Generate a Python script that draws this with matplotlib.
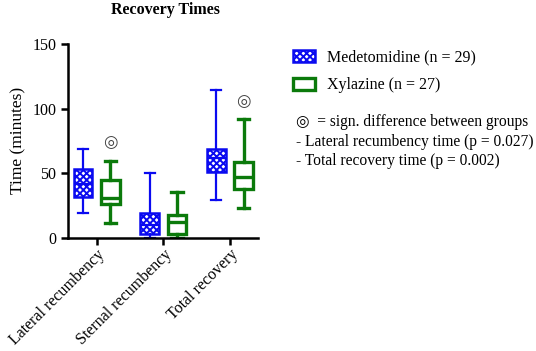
import matplotlib
matplotlib.use("Agg")
import matplotlib.pyplot as plt

plt.rcParams['font.family'] = ['Liberation Serif', 'DejaVu Sans']
plt.rcParams['hatch.linewidth'] = 1.4

categories = ["Lateral recumbency", "Sternal recumbency", "Total recovery"]

# box stats (minutes)
med_whislo = [19, 0, 29.5]
med_q1 = [32, 2.8, 51]
med_med = [42, 10, 62]
med_q3 = [53, 19, 68.5]
med_whishi = [69, 50.5, 114.5]

xyl_whislo = [11.5, 0, 23.5]
xyl_q1 = [26, 2.8, 37.5]
xyl_med = [31, 12, 47.5]
xyl_q3 = [44.5, 17.5, 58.5]
xyl_whishi = [59.5, 35.5, 92]

sig_x = [0, 2]
sig_y = [74.5, 106]

blue = "#0a0af0"
green = "#0b7a0b"

def stats(lo, q1, med, q3, hi):
    return [dict(whislo=a, q1=b, med=c, q3=d, whishi=e, fliers=[])
            for a, b, c, d, e in zip(lo, q1, med, q3, hi)]

fig = plt.figure(figsize=(5.36, 3.51), dpi=100)
ax = fig.add_axes([0.127, 0.322, 0.354, 0.553])

pos = range(len(categories))
off = 0.205
w = 0.28

b1 = ax.bxp(stats(med_whislo, med_q1, med_med, med_q3, med_whishi),
            positions=[p - off for p in pos], widths=w, patch_artist=True,
            showfliers=False, capwidths=w * 0.55,
            boxprops=dict(facecolor="white", edgecolor=blue, hatch="xxxxx", linewidth=1.8),
            whiskerprops=dict(color=blue, linewidth=1.6),
            capprops=dict(color=blue, linewidth=1.6),
            medianprops=dict(color=blue, linewidth=1.6))
b2 = ax.bxp(stats(xyl_whislo, xyl_q1, xyl_med, xyl_q3, xyl_whishi),
            positions=[p + off for p in pos], widths=w, patch_artist=True,
            showfliers=False, capwidths=w * 0.6,
            boxprops=dict(facecolor="white", edgecolor=green, linewidth=2.4),
            whiskerprops=dict(color=green, linewidth=2.4),
            capprops=dict(color=green, linewidth=2.4),
            medianprops=dict(color=green, linewidth=2.4))

for x, y in zip(sig_x, sig_y):
    ax.text(x + off, y, "◎", ha="center", va="center", fontsize=12,
            color="#444444", family="DejaVu Sans")

ax.set_xlim(-0.43, 2.42)
ax.set_ylim(0, 150)
ax.set_yticks([0, 50, 100, 150])
ax.set_xticks(list(pos))
ax.set_xticklabels(categories, rotation=45, ha="right", rotation_mode="anchor",
                   fontsize=11.5)
ax.tick_params(axis="y", labelsize=11.5, width=1.8, length=5)
ax.tick_params(axis="x", width=1.8, length=5, pad=1)
ax.set_ylabel("Time (minutes)", fontsize=12.5)
for s in ["top", "right"]:
    ax.spines[s].set_visible(False)
for s in ["left", "bottom"]:
    ax.spines[s].set_linewidth(1.8)

fig.text(0.308, 0.995, "Recovery Times", ha="center", va="top",
         fontsize=11.5, fontweight="bold")

ax.legend([b1["boxes"][0], b2["boxes"][0]],
          ["Medetomidine (n = 29)", "Xylazine (n = 27)"],
          loc="upper left", bbox_to_anchor=(0.52, 0.9),
          bbox_transform=fig.transFigure, frameon=False, fontsize=11.5,
          handlelength=1.4, handleheight=0.8, handletextpad=0.7,
          labelspacing=0.75)

notes = ["◎  = sign. difference between groups",
         "- Lateral recumbency time (p = 0.027)",
         "- Total recovery time (p = 0.002)"]
for i, t in enumerate(notes):
    fig.text(0.553, 1 - (122 + i * 19.5) / 351, t, ha="left", va="center",
             fontsize=11.2, family=["Liberation Serif", "DejaVu Sans"])

fig.savefig("out.png", dpi=100)
